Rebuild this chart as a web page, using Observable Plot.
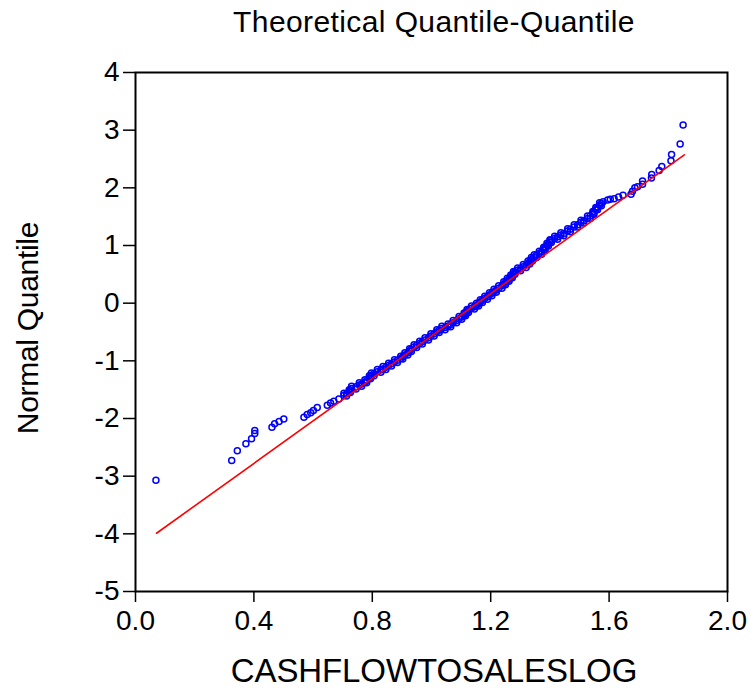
<!DOCTYPE html>
<html>
<head>
<meta charset="utf-8">
<script src="https://cdn.jsdelivr.net/npm/d3@7"></script>
<script src="https://cdn.jsdelivr.net/npm/@observablehq/plot@0.6"></script>
<style>
  html, body { margin: 0; padding: 0; background: #fff; }
  #wrap { position: relative; width: 754px; height: 688px; overflow: hidden; font-family: "Liberation Sans", Arial, sans-serif; color: #000; }
  #chart { position: absolute; left: 0; top: 0; }
  .lbl { position: absolute; white-space: nowrap; text-align: center; }
  #title { left: 134px; width: 600px; top: 7px; font-size: 30px; line-height: 30px; letter-spacing: 0.4px; }
  #xlab { left: 134px; width: 600px; top: 654px; font-size: 33px; line-height: 33px; letter-spacing: -0.1px; }
  #ylab { left: -122px; width: 300px; top: 313px; font-size: 30px; line-height: 30px; letter-spacing: -0.3px; transform: rotate(-90deg); transform-origin: 150px 15px; }
</style>
</head>
<body>
<div id="wrap">
  <div id="chart"></div>
  <div class="lbl" id="title">Theoretical Quantile-Quantile</div>
  <div class="lbl" id="xlab">CASHFLOWTOSALESLOG</div>
  <div class="lbl" id="ylab">Normal Quantile</div>
</div>
<script>
// Lower tail points (sample value, normal quantile)
const lowTailX = [0.069,0.325,0.344,0.373,0.392,0.403,0.403,0.461,0.470,0.485,0.501,0.569,0.580,0.592,0.601,0.614,0.648,0.659,0.670,0.687];
const lowTailY = [-3.07,-2.73,-2.56,-2.44,-2.35,-2.26,-2.21,-2.15,-2.09,-2.05,-2.01,-1.98,-1.93,-1.90,-1.86,-1.81,-1.77,-1.73,-1.70,-1.66];

// Dense central band (centre trace)
const bandX = [0.704,0.713,0.722,0.726,0.730,0.745,0.756,0.764,0.775,0.781,
  0.790,0.794,0.797,0.806,0.817,0.829,0.836,0.846,0.855,0.865,
  0.875,0.885,0.896,0.903,0.910,0.920,0.926,0.932,0.941,0.950,
  0.960,0.969,0.978,0.990,0.998,1.009,1.018,1.026,1.035,1.046,
  1.056,1.065,1.073,1.085,1.093,1.102,1.110,1.115,1.120,1.125,
  1.135,1.145,1.152,1.159,1.165,1.172,1.180,1.189,1.196,1.204,
  1.211,1.219,1.227,1.238,1.244,1.250,1.256,1.262,1.268,1.273,
  1.277,1.282,1.291,1.301,1.310,1.320,1.326,1.332,1.337,1.341,
  1.347,1.355,1.364,1.372,1.379,1.384,1.390,1.395,1.400,1.405,
  1.416,1.426,1.437,1.447,1.460,1.469,1.482,1.494,1.505,1.514,
  1.527,1.536,1.545,1.549,1.555,1.561,1.568,1.574,1.580];
const bandY = [-1.60,-1.57,-1.54,-1.51,-1.48,-1.45,-1.42,-1.40,-1.37,-1.34,
  -1.30,-1.27,-1.25,-1.22,-1.19,-1.16,-1.14,-1.11,-1.08,-1.05,
  -1.02,-0.99,-0.96,-0.93,-0.90,-0.86,-0.83,-0.80,-0.76,-0.73,
  -0.70,-0.67,-0.64,-0.60,-0.57,-0.53,-0.50,-0.47,-0.44,-0.42,
  -0.40,-0.37,-0.34,-0.30,-0.27,-0.24,-0.21,-0.18,-0.15,-0.12,
  -0.09,-0.06,-0.04,-0.01,0.02,0.05,0.08,0.11,0.14,0.17,
  0.20,0.23,0.26,0.30,0.33,0.36,0.39,0.42,0.45,0.48,
  0.51,0.54,0.57,0.60,0.63,0.66,0.69,0.72,0.75,0.77,
  0.80,0.83,0.86,0.89,0.93,0.96,1.00,1.03,1.06,1.09,
  1.12,1.15,1.18,1.21,1.25,1.28,1.32,1.36,1.40,1.43,
  1.47,1.51,1.55,1.58,1.62,1.66,1.70,1.73,1.76];

// Band upper edge
const bandUpX = [0.704,0.722,0.730,0.756,0.775,0.790,0.797,0.817,0.836,0.855,
  0.875,0.896,0.910,0.926,0.941,0.960,0.978,0.998,1.018,1.035,
  1.056,1.073,1.093,1.110,1.120,1.135,1.152,1.165,1.180,1.196,
  1.211,1.227,1.244,1.256,1.268,1.277,1.291,1.310,1.326,1.337,
  1.347,1.364,1.379,1.390,1.400,1.416,1.437,1.460,1.482,1.505,
  1.527,1.545,1.555,1.568];
const bandUpY = [-1.56,-1.50,-1.44,-1.38,-1.33,-1.26,-1.21,-1.15,-1.10,-1.04,
  -0.98,-0.92,-0.86,-0.79,-0.72,-0.66,-0.60,-0.53,-0.46,-0.40,
  -0.36,-0.30,-0.23,-0.17,-0.11,-0.05,0.00,0.06,0.12,0.18,
  0.24,0.30,0.37,0.43,0.49,0.55,0.61,0.67,0.73,0.79,
  0.84,0.90,0.97,1.04,1.10,1.16,1.22,1.29,1.36,1.44,
  1.51,1.59,1.66,1.74];

// Band lower edge
const bandLoX = [0.713,0.726,0.745,0.764,0.781,0.794,0.806,0.829,0.846,0.865,
  0.885,0.903,0.920,0.932,0.950,0.969,0.990,1.009,1.026,1.046,
  1.065,1.085,1.102,1.115,1.125,1.145,1.159,1.172,1.189,1.204,
  1.219,1.238,1.250,1.262,1.273,1.282,1.301,1.320,1.332,1.341,
  1.355,1.372,1.384,1.395,1.405,1.426,1.447,1.469,1.494,1.514,
  1.536,1.549,1.561,1.574];
const bandLoY = [-1.61,-1.55,-1.49,-1.44,-1.38,-1.31,-1.26,-1.20,-1.15,-1.09,
  -1.03,-0.97,-0.90,-0.84,-0.77,-0.71,-0.64,-0.57,-0.51,-0.46,
  -0.41,-0.34,-0.28,-0.22,-0.16,-0.10,-0.05,0.01,0.07,0.13,
  0.19,0.26,0.32,0.38,0.44,0.50,0.56,0.62,0.68,0.73,
  0.79,0.85,0.92,0.99,1.05,1.11,1.17,1.24,1.32,1.39,
  1.47,1.54,1.62,1.69];

// Upper tail points
const upTailX = [1.595,1.604,1.617,1.632,1.647,1.674,1.679,1.687,1.696,1.713,1.713,1.743,1.744,1.769,1.778,1.809,1.811,1.840,1.850];
const upTailY = [1.79,1.80,1.81,1.84,1.87,1.89,1.94,2.00,2.02,2.06,2.12,2.17,2.23,2.30,2.37,2.47,2.58,2.76,3.09];

// Reference (fitted normal) line endpoints
const fitX = [0.071, 1.854];
const fitY = [-3.99, 2.573];

const xTicks = [0.0, 0.4, 0.8, 1.2, 1.6, 2.0];
const yTicks = [-5, -4, -3, -2, -1, 0, 1, 2, 3, 4];

const pts = [];
[[lowTailX, lowTailY], [bandX, bandY], [bandUpX, bandUpY], [bandLoX, bandLoY], [upTailX, upTailY]].forEach(([xs, ys]) => {
  xs.forEach((v, i) => pts.push({x: v, y: ys[i]}));
});
const fit = fitX.map((v, i) => ({x: v, y: fitY[i]}));

const chart = Plot.plot({
  width: 754,
  height: 688,
  marginLeft: 135,
  marginRight: 27,
  marginTop: 72,
  marginBottom: 97,
  style: {fontFamily: "'Liberation Sans', Arial, sans-serif", background: "white", color: "black"},
  x: {domain: [0, 2]},
  y: {domain: [-5, 4]},
  marks: [
    Plot.axisX({ticks: xTicks, tickFormat: d => d.toFixed(1), tickSize: 11, tickPadding: 8, fontSize: 28, strokeWidth: 1.5, label: null}),
    Plot.axisY({ticks: yTicks, tickFormat: d => String(d), tickSize: 12, tickPadding: 4, fontSize: 28, strokeWidth: 1.5, label: null}),
    Plot.dot(pts, {x: "x", y: "y", r: 3, stroke: "#0000ff", strokeWidth: 1.5, fill: "none"}),
    Plot.line(fit, {x: "x", y: "y", stroke: "#ff0000", strokeWidth: 1.6}),
    Plot.frame({stroke: "black", strokeWidth: 2})
  ]
});
document.getElementById("chart").appendChild(chart);
</script>
</body>
</html>
